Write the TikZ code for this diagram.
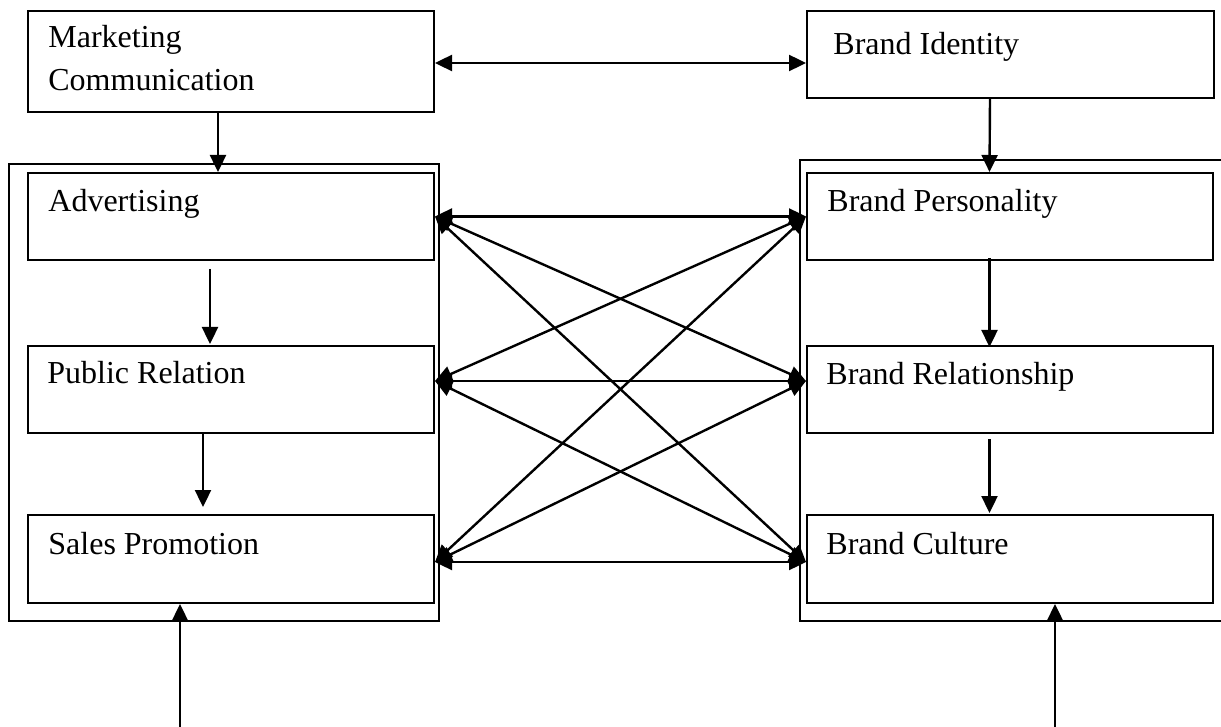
\documentclass[tikz,border=0pt]{standalone}
\usepackage{fontspec}
\setmainfont{Liberation Serif}
\usetikzlibrary{arrows.meta}

\tikzset{
  box/.style={draw, line width=1pt, anchor=north west, inner sep=0pt,
    minimum width=203pt, minimum height=43.5pt},
  grp/.style={draw, line width=0.8pt},
  txt/.style={anchor=base west, inner sep=0pt, align=left,
    font=\fontsize{16pt}{21.5pt}\selectfont},
  link/.style={line width=1.2pt, -{Triangle[length=8.5pt,width=8pt]}},
  twin/.style={line width=1.2pt,
    {Triangle[length=8.5pt,width=8pt]}-{Triangle[length=8.5pt,width=8pt]}},
}

\begin{document}
\begin{tikzpicture}[x=0.5pt, y=-0.5pt]
  \useasboundingbox (0,0) rectangle (1221,727);

  % outer groups
  \draw[grp] (9,164) rectangle (439,621);
  \draw[grp] (1221,160) -| (800,621) -- (1221,621);

  % boxes
  \node[box, minimum height=50.5pt] (mc) at (27,10) {};
  \node[box, minimum width=203.5pt] (bi) at (806,10) {};
  \node[box] (adv) at (27,172) {};
  \node[box] (pr)  at (27,345) {};
  \node[box, minimum height=44pt] (sp)  at (27,514) {};
  \node[box] (bp)  at (806,172) {};
  \node[box] (br)  at (806,345) {};
  \node[box, minimum height=44pt] (bc)  at (806,514) {};

  % texts
  \node[txt] (mc-t)  at ([shift={(21,81)}]mc.north west) {Marketing\\Communication};
  \node[txt] (bi-t)  at ([shift={(27,45)}]bi.north west) {Brand Identity};
  \node[txt] (adv-t) at ([shift={(21,40)}]adv.north west) {Advertising};
  \node[txt] (pr-t)  at ([shift={(20,38)}]pr.north west) {Public Relation};
  \node[txt] (sp-t)  at ([shift={(21,40)}]sp.north west) {Sales Promotion};
  \node[txt] (bp-t)  at ([shift={(21,40)}]bp.north west) {Brand Personality};
  \node[txt] (br-t)  at ([shift={(20,39)}]br.north west) {Brand Relationship};
  \node[txt] (bc-t)  at ([shift={(20,40)}]bc.north west) {Brand Culture};

  % top link
  \draw[twin] ([yshift=-0.75pt]mc.east) -- ([yshift=-0.75pt]mc.east -| bi.west);

  % vertical links
  \draw[link] ([xshift=-6.5pt]mc.south) -- ([xshift=-6.5pt]adv.north);
  \draw[link] ([xshift=-10.25pt]bi.south) -- ([xshift=-10.25pt]bp.north);
  \draw[link] ([xshift=-10.5pt,yshift=-4pt]adv.south) -- ([xshift=-10.5pt,yshift=0.5pt]pr.north);
  \draw[link] ([xshift=-14pt]pr.south) -- ([xshift=-14pt,yshift=3.5pt]sp.north);
  \draw[link] ([xshift=-10.25pt,yshift=1.5pt]bp.south) -- ([xshift=-10.25pt,yshift=-1pt]br.north);
  \draw[link] ([xshift=-10.25pt,yshift=-2.5pt]br.south) -- ([xshift=-10.25pt,yshift=0.5pt]bc.north);

  % bottom inputs
  \coordinate (sp-in) at (180,727);
  \coordinate (bc-in) at (1055,727);
  \draw[link] (sp-in) -- (sp-in |- sp.south);
  \draw[link] (bc-in) -- (bc-in |- bc.south);

  % cross links
  \coordinate (adv-e) at (adv.east);
  \coordinate (pr-e)  at ([yshift=4.25pt]pr.east);
  \coordinate (sp-e)  at ([yshift=-1.5pt]sp.east);
  \coordinate (bp-w)  at (bp.west);
  \coordinate (br-w)  at ([yshift=4.25pt]br.west);
  \coordinate (bc-w)  at ([yshift=-1.5pt]bc.west);
  \foreach \l in {adv, pr, sp}
    \foreach \r in {bp, br, bc}
      \draw[twin] (\l-e) -- (\r-w);
\end{tikzpicture}
\end{document}
